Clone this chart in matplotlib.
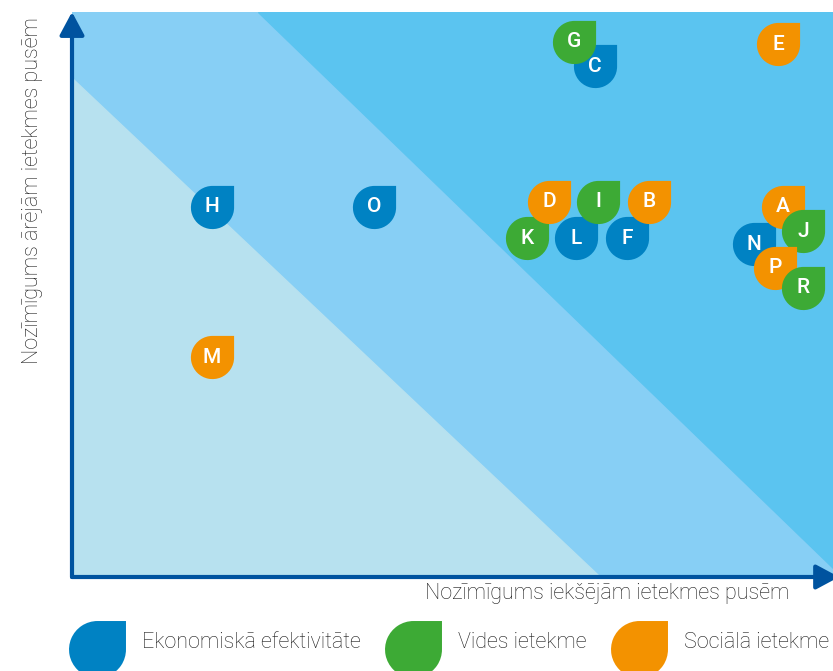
"""
Materiality matrix: internal vs external impact importance.
"""
import matplotlib
matplotlib.use('Agg')

import matplotlib.pyplot as plt
import numpy as np
from matplotlib.path import Path
from matplotlib.patches import Polygon

plt.rcParams['font.family'] = ['Roboto', 'DejaVu Sans']

# Data (0-10 scale on both axes), in drawing order
labels = ['K', 'L', 'F', 'D', 'I', 'B', 'C', 'G', 'N', 'A', 'J', 'P', 'R', 'E', 'H', 'O', 'M']
x_internal = [5.98, 6.62, 7.29, 6.27, 6.91, 7.58, 6.87, 6.60, 8.96, 9.34, 9.61, 9.24, 9.61, 9.28, 1.84, 3.97, 1.84]
y_external = [6.00, 6.00, 6.00, 6.64, 6.64, 6.64, 9.04, 9.47, 5.89, 6.55, 6.12, 5.47, 5.12, 9.43, 6.55, 6.55, 3.89]
groups = ['env', 'eco', 'eco', 'soc', 'env', 'soc', 'eco', 'env', 'eco', 'soc', 'env', 'soc', 'env', 'soc', 'eco', 'eco', 'soc']

group_names = ['eco', 'env', 'soc']
group_labels = ['Ekonomiskā efektivitāte', 'Vides ietekme', 'Sociālā ietekme']
colors = {'eco': '#0082c3', 'env': '#3daa35', 'soc': '#f39200'}

# background band corners
band_low = [(0, 0), (0, 8.83), (6.94, 0)]
band_high = [(2.44, 10), (10, 10), (10, 0.16)]

# teardrop marker: circle with square top-right corner
arc = Path.arc(90, 360)
verts = np.vstack([arc.vertices, [[1, 1], [0, 1]]])
codes = list(arc.codes) + [Path.LINETO, Path.CLOSEPOLY]
drop = Path(verts, codes)

fig = plt.figure(figsize=(8.33, 6.71), dpi=100)
W, H = 833, 671
ax = fig.add_axes([72 / W, 1 - 577 / H, 761 / W, 565 / H])
ax.set_xlim(0, 10)
ax.set_ylim(0, 10)
ax.axis('off')

ax.add_patch(Polygon([(0, 0), (10, 0), (10, 10), (0, 10)], closed=True, color='#87cff5', zorder=0))
ax.add_patch(Polygon(band_low, closed=True, color='#b7e1ef', zorder=1))
ax.add_patch(Polygon(band_high, closed=True, color='#5bc4f0', zorder=1))

for i, (lab, xv, yv, g) in enumerate(zip(labels, x_internal, y_external, groups)):
    ax.scatter(xv, yv, s=31.7 ** 2, marker=drop, color=colors[g],
               linewidths=0, zorder=3 + i, clip_on=False)
    ax.text(xv, yv, lab, color='white', fontsize=15, fontweight='medium',
            ha='center', va='center', zorder=3 + i)

# axes arrows
axis_col = '#00539f'
ax.annotate('', xy=(0, 1.0), xytext=(0, 0), xycoords='axes fraction',
            arrowprops=dict(arrowstyle='-|>,head_length=1.4,head_width=0.75',
                            color=axis_col, lw=3, shrinkA=0, shrinkB=0),
            annotation_clip=False, zorder=50)
ax.annotate('', xy=(1.008, 0), xytext=(0, 0), xycoords='axes fraction',
            arrowprops=dict(arrowstyle='-|>,head_length=1.4,head_width=0.75',
                            color=axis_col, lw=3, shrinkA=0, shrinkB=0),
            annotation_clip=False, zorder=50)

txt_col = '#1a1a1a'
fig.text(607 / W, 1 - 593 / H, 'Nozīmīgums iekšējām ietekmes pusēm',
         fontsize=15.5, fontweight='light', color=txt_col, ha='center', va='center')
fig.text(33 / W, 1 - 191 / H, 'Nozīmīgums ārējām ietekmes pusēm',
         fontsize=15.5, fontweight='light', color=txt_col, ha='center', va='center',
         rotation=90)

# legend
lax = fig.add_axes([0, 0, 1, 94 / H])
lax.set_xlim(0, W)
lax.set_ylim(0, 94)
lax.axis('off')
leg_x = [97, 413, 639]
for gx, g, gl in zip(leg_x, group_names, group_labels):
    lax.scatter(gx, 22, s=41.8 ** 2, marker=drop, color=colors[g], linewidths=0, clip_on=False)
    lax.text(gx + 45, 28, gl, fontsize=15.5, fontweight='light', color=txt_col,
             ha='left', va='center')

fig.savefig('out.png', dpi=100)
